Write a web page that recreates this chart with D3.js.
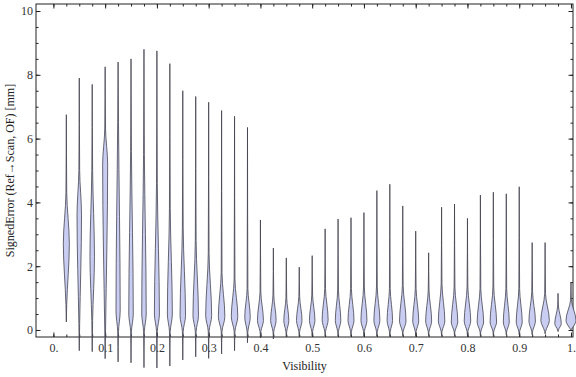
<!DOCTYPE html>
<html>
<head>
<meta charset="utf-8">
<script src="https://cdn.jsdelivr.net/npm/d3@7"></script>
<style>
  body { margin: 0; background: #fff; }
  svg { display: block; }
</style>
</head>
<body>
<div class="svg-container"></div>
<script>
//violin positions on the x axis (visibility bins)
var visibility = [0.025, 0.05, 0.075, 0.1, 0.125, 0.15, 0.175, 0.2, 0.225, 0.25,
                  0.275, 0.3, 0.325, 0.35, 0.375, 0.4, 0.425, 0.45, 0.475, 0.5,
                  0.525, 0.55, 0.575, 0.6, 0.625, 0.65, 0.675, 0.7, 0.725, 0.75,
                  0.775, 0.8, 0.825, 0.85, 0.875, 0.9, 0.925, 0.95, 0.975, 1.0];

//lowest and highest signed error in each bin (tail ends)
var errMin = [0.25, -0.65, -0.68, -0.9, -1.0, -1.03, -1.18, -1.19, -1.13, -0.94,
              -0.84, -0.89, -0.75, -0.65, -0.4, -0.25, -0.28, -0.22, -0.2, -0.2,
              -0.2, -0.2, -0.2, -0.2, -0.2, -0.2, -0.18, -0.18, -0.18, -0.18,
              -0.18, -0.18, -0.18, -0.18, -0.15, -0.15, -0.15, -0.12, -0.05, 0.0];
var errMax = [6.75, 7.9, 7.7, 8.25, 8.4, 8.5, 8.8, 8.75, 8.35, 7.5,
              7.32, 7.14, 6.88, 6.7, 6.35, 3.45, 2.57, 2.26, 1.97, 2.33,
              3.17, 3.48, 3.52, 3.68, 4.37, 4.57, 3.89, 3.1, 2.42, 3.85,
              3.95, 3.5, 4.23, 4.32, 4.27, 4.49, 2.74, 2.74, 1.15, 1.5];

//where the bulk of the density starts, peaks and ends
var bulkLow = [0.8, 0.2, 0.3, 0.0, -0.05, -0.05, -0.05, -0.05, -0.05, -0.05,
               -0.05, -0.05, -0.05, -0.05, -0.05, -0.05, -0.05, -0.05, -0.05, -0.05,
               -0.05, -0.05, -0.05, -0.05, -0.05, -0.05, -0.05, -0.05, -0.05, -0.05,
               -0.05, -0.05, -0.05, -0.05, -0.05, -0.05, -0.05, -0.05, 0.0, 0.02];
var bulkPeak = [2.7, 3.6, 2.3, 5.2, 0.6, 0.5, 0.5, 0.5, 0.5, 0.45,
                0.45, 0.45, 0.42, 0.42, 0.4, 0.3, 0.3, 0.3, 0.3, 0.3,
                0.32, 0.3, 0.3, 0.3, 0.3, 0.3, 0.28, 0.28, 0.28, 0.28,
                0.25, 0.28, 0.25, 0.25, 0.25, 0.25, 0.28, 0.3, 0.2, 0.3];
var bulkHigh = [4.3, 5.0, 5.0, 6.3, 6.5, 5.6, 5.5, 4.6, 3.8, 3.2,
                2.8, 2.4, 1.8, 1.6, 1.3, 1.2, 1.1, 1.0, 1.05, 1.1,
                1.3, 1.25, 1.3, 1.35, 1.35, 1.3, 1.4, 1.3, 1.25, 1.45,
                1.35, 1.35, 1.3, 1.35, 1.3, 1.3, 1.2, 1.15, 0.75, 0.95];
//relative density at the peak
var peakDensity = [0.6, 0.45, 0.45, 0.5, 0.42, 0.45, 0.45, 0.5, 0.5, 0.55,
                   0.55, 0.6, 0.65, 0.65, 0.55, 0.6, 0.55, 0.5, 0.55, 0.55,
                   0.6, 0.55, 0.6, 0.6, 0.6, 0.55, 0.65, 0.6, 0.6, 0.65,
                   0.65, 0.65, 0.65, 0.65, 0.6, 0.6, 0.65, 0.85, 0.65, 1.0];

//tick labels
var xMajor = [0, 0.1, 0.2, 0.3, 0.4, 0.5, 0.6, 0.7, 0.8, 0.9, 1.0];
var xLabels = ["0.", "0.1", "0.2", "0.3", "0.4", "0.5", "0.6", "0.7", "0.8", "0.9", "1."];
var yMajor = [0, 2, 4, 6, 8, 10];
var yLabels = ["0", "2", "4", "6", "8", "10"];

//size of page and frame
var width = 576, height = 377;
var frame = {left: 36, right: 573, top: 4, bottom: 337};
var font = "'Liberation Serif', 'Times New Roman', serif";

//scales
var x = d3.scaleLinear().domain([-0.0336, 1.0039]).range([frame.left, frame.right]);
var y = d3.scaleLinear().domain([-0.22, 10.22]).range([frame.bottom, frame.top]);
//density -> half width in pixels
var w = d3.scaleLinear().domain([0, 1]).range([0, 5]);

var svg = d3.select(".svg-container")
    .append("svg")
    .attr("width", width)
    .attr("height", height);

//minor ticks every quarter of a major step
var xMinor = d3.range(0, 1.0001, 0.025);
var yMinor = d3.range(0, 10.0001, 0.5);

//draw an axis with inward ticks, then style it
function frameAxis(axis, tx, ty, size, values, fmt) {
    var g = svg.append("g")
        .attr("transform", "translate(" + tx + "," + ty + ")")
        .call(axis.tickValues(values).tickSize(-size).tickFormat(fmt));
    g.select(".domain").remove();
    g.selectAll("line").attr("stroke", "#222").attr("stroke-width", 1);
    g.selectAll("text")
        .attr("fill", "#333")
        .style("font-family", font)
        .style("font-size", "12px");
    return g;
}

//bottom
frameAxis(d3.axisBottom(x).tickPadding(6.5), 0, frame.bottom, 2.5, xMinor, "");
frameAxis(d3.axisBottom(x).tickPadding(6.5), 0, frame.bottom, 4.5, xMajor,
    function(d, i) { return xLabels[i]; });
//top
frameAxis(d3.axisTop(x), 0, frame.top, 2.5, xMinor, "");
frameAxis(d3.axisTop(x), 0, frame.top, 4.5, xMajor, "");
//left
frameAxis(d3.axisLeft(y).tickPadding(3), frame.left, 0, 2.5, yMinor, "");
frameAxis(d3.axisLeft(y).tickPadding(3), frame.left, 0, 4.5, yMajor,
    function(d, i) { return yLabels[i]; });
//right
frameAxis(d3.axisRight(y), frame.right, 0, 2.5, yMinor, "");
frameAxis(d3.axisRight(y), frame.right, 0, 4.5, yMajor, "");

//frame box
svg.append("rect")
    .attr("x", frame.left)
    .attr("y", frame.top)
    .attr("width", frame.right - frame.left)
    .attr("height", frame.bottom - frame.top)
    .attr("fill", "none")
    .attr("stroke", "#222")
    .attr("stroke-width", 1);

//axis titles
svg.append("text")
    .attr("x", (frame.left + frame.right) / 2)
    .attr("y", 370)
    .attr("text-anchor", "middle")
    .style("font-family", font)
    .style("font-size", "12px")
    .attr("fill", "#222")
    .text("Visibility");

svg.append("text")
    .attr("transform", "translate(14," + ((frame.top + frame.bottom) / 2) + ") rotate(-90)")
    .attr("text-anchor", "middle")
    .style("font-family", font)
    .style("font-size", "12px")
    .attr("fill", "#222")
    .text("SignedError (Ref\u2192Scan, OF) [mm]");

//violins
var tail = 0.08;
var violins = visibility.map(function(v, i) {
    return {
        pos: v,
        knots: [
            {v: errMin[i], d: 0},
            {v: bulkLow[i], d: tail},
            {v: bulkPeak[i], d: peakDensity[i]},
            {v: bulkHigh[i], d: tail},
            {v: errMax[i], d: 0}
        ]
    };
});

var area = d3.area()
    .curve(d3.curveMonotoneY)
    .y(function(k) { return y(k.v); });

svg.selectAll(".violin")
    .data(violins)
    .enter()
    .append("path")
    .attr("class", "violin")
    .attr("d", function(d) {
        var cx = x(d.pos);
        return area
            .x0(function(k) { return cx - w(k.d); })
            .x1(function(k) { return cx + w(k.d); })(d.knots);
    })
    .attr("fill", "#c9cdf2")
    .attr("stroke", "#3c3c48")
    .attr("stroke-opacity", 0.85)
    .attr("stroke-width", 0.9)
    .attr("stroke-linejoin", "round");
</script>
</body>
</html>
